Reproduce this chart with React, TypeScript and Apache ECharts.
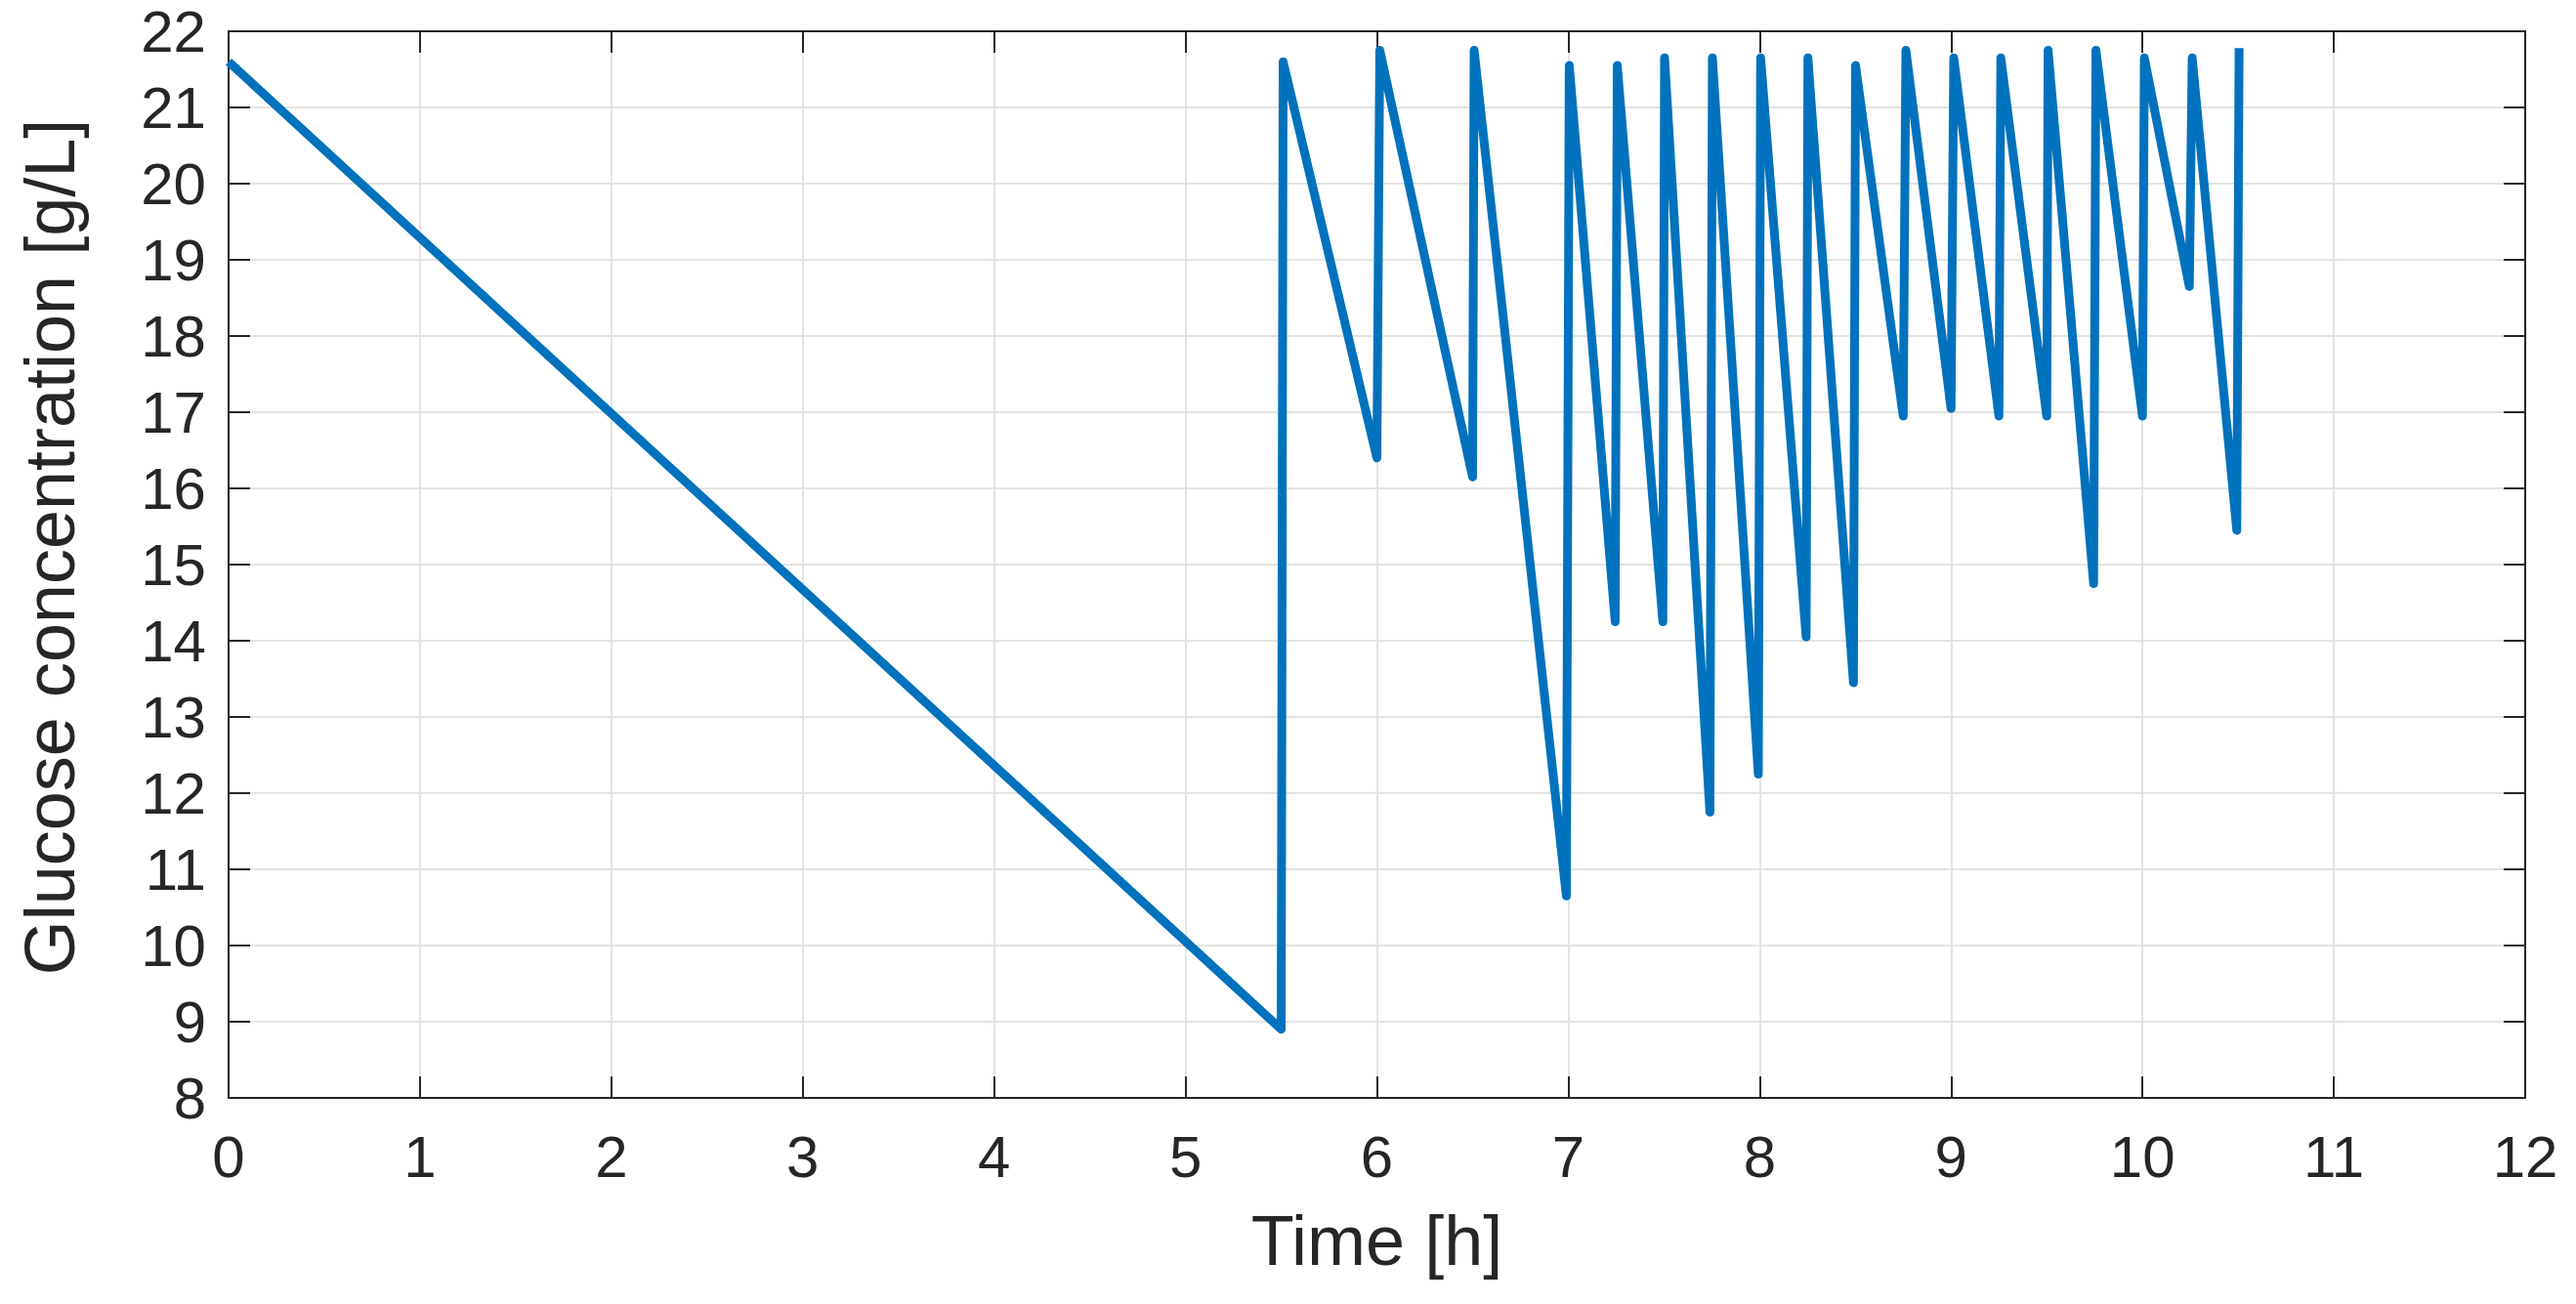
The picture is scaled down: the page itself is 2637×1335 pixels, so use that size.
import React, { useEffect, useRef } from "react";
import * as echarts from "echarts";

const timeHours: number[] = [
  0, 5.5, 5.51, 6.0, 6.015, 6.5, 6.508, 6.99, 7.005, 7.245, 7.256, 7.494, 7.503,
  7.74, 7.753, 7.993, 8.005, 8.243, 8.252, 8.49, 8.501, 8.75, 8.764, 9.0, 9.014,
  9.25, 9.26, 9.5, 9.507, 9.745, 9.757, 10.0, 10.01, 10.245, 10.26, 10.493, 10.505,
];
const glucose: number[] = [
  21.6, 8.9, 21.6, 16.4, 21.75, 16.15, 21.75, 10.65, 21.55, 14.25, 21.55, 14.25,
  21.65, 11.75, 21.65, 12.25, 21.65, 14.05, 21.65, 13.45, 21.55, 16.95, 21.75,
  17.05, 21.65, 16.95, 21.65, 16.95, 21.75, 14.75, 21.75, 16.95, 21.65, 18.65,
  21.65, 15.45, 21.78,
];
const xTicks = { min: 0, max: 12, interval: 1 };
const yTicks = { min: 8, max: 22, interval: 1 };
const xTitle = "Time [h]";
const yTitle = "Glucose concentration [g/L]";

const FONT = "'Liberation Sans', Arial, Helvetica, sans-serif";
const TEXT = "#262626";
const AXIS = "#262626";
const GRID = "#e3e3e3";

export default function App() {
  const ref = useRef<HTMLDivElement>(null);
  useEffect(() => {
    document.body.style.margin = "0";
    if (!ref.current) return;
    const chart = echarts.init(ref.current, undefined, { renderer: "svg" });
    const axisLine = { show: true, onZero: false, lineStyle: { color: AXIS, width: 2 } };
    const axisTick = { show: true, inside: true, length: 22, lineStyle: { color: AXIS, width: 2 } };
    const splitLine = { show: true, lineStyle: { color: GRID, width: 2 } };
    chart.setOption({
      animation: false,
      backgroundColor: "#ffffff",
      grid: { left: 234, right: 52, top: 32, bottom: 211, containLabel: false },
      xAxis: [
        {
          type: "value",
          ...xTicks,
          position: "bottom",
          axisLine,
          axisTick,
          splitLine,
          axisLabel: { fontSize: 60, margin: 30, color: TEXT, fontFamily: FONT },
          name: xTitle,
          nameLocation: "middle",
          nameGap: 110,
          nameTextStyle: { fontSize: 72, color: TEXT, fontFamily: FONT },
        },
        {
          type: "value",
          ...xTicks,
          position: "top",
          axisLine,
          axisTick,
          splitLine: { show: false },
          axisLabel: { show: false },
        },
      ],
      yAxis: [
        {
          type: "value",
          ...yTicks,
          position: "left",
          axisLine,
          axisTick,
          splitLine,
          axisLabel: { fontSize: 60, margin: 23, color: TEXT, fontFamily: FONT },
          name: yTitle,
          nameLocation: "middle",
          nameGap: 147,
          nameTextStyle: { fontSize: 72, color: TEXT, fontFamily: FONT, padding: [0, 0, 0, 36] },
        },
        {
          type: "value",
          ...yTicks,
          position: "right",
          axisLine,
          axisTick,
          splitLine: { show: false },
          axisLabel: { show: false },
        },
      ],
      series: [
        {
          type: "line",
          xAxisIndex: 0,
          yAxisIndex: 0,
          data: timeHours.map((t, i) => [t, glucose[i]]),
          showSymbol: false,
          symbol: "none",
          lineStyle: { color: "#0072BD", width: 9, cap: "butt", join: "round" },
          clip: false,
        },
      ],
    });
    return () => chart.dispose();
  }, []);
  return <div ref={ref} style={{ width: 2637, height: 1335 }} />;
}
